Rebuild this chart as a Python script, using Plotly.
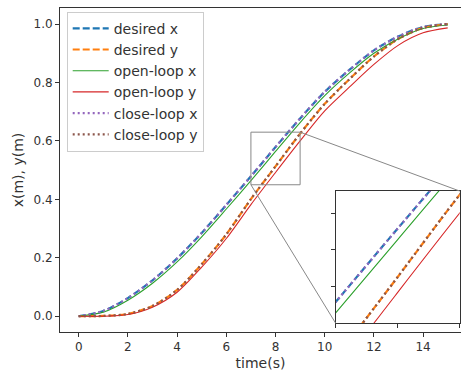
import plotly.graph_objects as go

# ---- data ----
time = [0, 1, 2, 3, 4, 5, 6, 7, 8, 9, 10, 11, 12, 13, 14, 15]
desired_x = [0.0, 0.018, 0.062, 0.123, 0.198, 0.285, 0.381, 0.479, 0.579, 0.677, 0.768, 0.843, 0.910, 0.958, 0.990, 1.000]
desired_y = [0.0, 0.001, 0.008, 0.035, 0.090, 0.178, 0.280, 0.401, 0.513, 0.625, 0.727, 0.811, 0.889, 0.950, 0.987, 1.000]
open_x = [0.0, 0.014, 0.055, 0.113, 0.186, 0.272, 0.367, 0.464, 0.564, 0.663, 0.755, 0.832, 0.900, 0.950, 0.985, 0.997]
open_y = [0.0, 0.000, 0.006, 0.031, 0.082, 0.168, 0.266, 0.382, 0.492, 0.600, 0.703, 0.784, 0.862, 0.928, 0.970, 0.987]
close_x = [0.0, 0.018, 0.062, 0.123, 0.198, 0.285, 0.381, 0.479, 0.579, 0.677, 0.768, 0.843, 0.910, 0.958, 0.990, 1.000]
close_y = [0.0, 0.001, 0.008, 0.035, 0.090, 0.178, 0.280, 0.401, 0.513, 0.625, 0.727, 0.811, 0.889, 0.950, 0.987, 1.000]

x_ticks = [0, 2, 4, 6, 8, 10, 12, 14]
y_ticks = [0.0, 0.2, 0.4, 0.6, 0.8, 1.0]
main_xrange = [-0.76, 15.54]
main_yrange = [-0.054, 1.055]
inset_xrange = [7, 9]
inset_yrange = [0.45, 0.63]
inset_xdom = [0.6875, 0.9968]
inset_ydom = [0.027, 0.435]

series = [
    ("desired x", desired_x, "#1f77b4", "7px,3px", 2.2),
    ("desired y", desired_y, "#ff7f0e", "7px,3px", 2.2),
    ("open-loop x", open_x, "#2ca02c", "solid", 1.1),
    ("open-loop y", open_y, "#d62728", "solid", 1.1),
    ("close-loop x", close_x, "#9467bd", "2px,3px", 2.2),
    ("close-loop y", close_y, "#8c564b", "2px,3px", 2.2),
]

fig = go.Figure()
for name, vals, col, dash, w in series:
    fig.add_trace(go.Scatter(
        x=time, y=vals, mode="lines", name=name, legendgroup=name,
        line=dict(color=col, dash=dash, width=w, shape="spline", smoothing=0.8),
        xaxis="x", yaxis="y"))
for name, vals, col, dash, w in series:
    fig.add_trace(go.Scatter(
        x=time, y=vals, mode="lines", name=name, showlegend=False,
        line=dict(color=col, dash=dash, width=w, shape="spline", smoothing=0.8),
        xaxis="x2", yaxis="y2"))

axis_common = dict(showline=True, mirror=True, linecolor="#333", linewidth=1,
                   ticks="outside", ticklen=4, tickcolor="#333", showgrid=False,
                   zeroline=False)
font_fam = "DejaVu Sans"

def to_main(xd, yd):
    return (main_xrange[0] + xd * (main_xrange[1] - main_xrange[0]),
            main_yrange[0] + yd * (main_yrange[1] - main_yrange[0]))

tr = to_main(inset_xdom[1], inset_ydom[1])
bl = to_main(inset_xdom[0], inset_ydom[0])

shapes = [
    dict(type="rect", xref="x", yref="y", x0=inset_xrange[0], x1=inset_xrange[1],
         y0=inset_yrange[0], y1=inset_yrange[1], line=dict(color="#888", width=1)),
    dict(type="line", xref="x", yref="y", x0=inset_xrange[1], y0=inset_yrange[1],
         x1=tr[0], y1=tr[1], line=dict(color="#888", width=1)),
    dict(type="line", xref="x", yref="y", x0=inset_xrange[0], y0=inset_yrange[0],
         x1=bl[0], y1=bl[1], line=dict(color="#888", width=1)),
]

fig.update_layout(
    width=461, height=374,
    margin=dict(l=60, r=0, t=8, b=42),
    paper_bgcolor="white", plot_bgcolor="white",
    font=dict(family=font_fam, size=12, color="#333"),
    xaxis=dict(domain=[0, 1], range=main_xrange, tickvals=x_ticks,
               title=dict(text="time(s)", font=dict(size=14), standoff=4),
               tickfont=dict(size=12), **axis_common),
    yaxis=dict(domain=[0, 1], range=main_yrange, tickvals=y_ticks, tickformat=".1f",
               title=dict(text="x(m), y(m)", font=dict(size=14), standoff=6),
               tickfont=dict(size=12), **axis_common),
    xaxis2=dict(domain=inset_xdom, range=inset_xrange, anchor="y2",
                tickvals=[7, 8, 9], showticklabels=False, **axis_common),
    yaxis2=dict(domain=inset_ydom, range=inset_yrange, anchor="x2",
                tickvals=[0.5, 0.55, 0.6], showticklabels=False, **axis_common),
    legend=dict(x=0.0167, y=0.9886, xanchor="left", yanchor="top",
                bgcolor="white", bordercolor="#ccc", borderwidth=1,
                font=dict(size=14, color="#333"), itemwidth=36, tracegroupgap=0),
    shapes=shapes,
    showlegend=True,
)

fig.write_html("out.html",
               config={"displayModeBar": False},
               post_script="document.body.style.margin='0';document.body.style.overflow='hidden';")
